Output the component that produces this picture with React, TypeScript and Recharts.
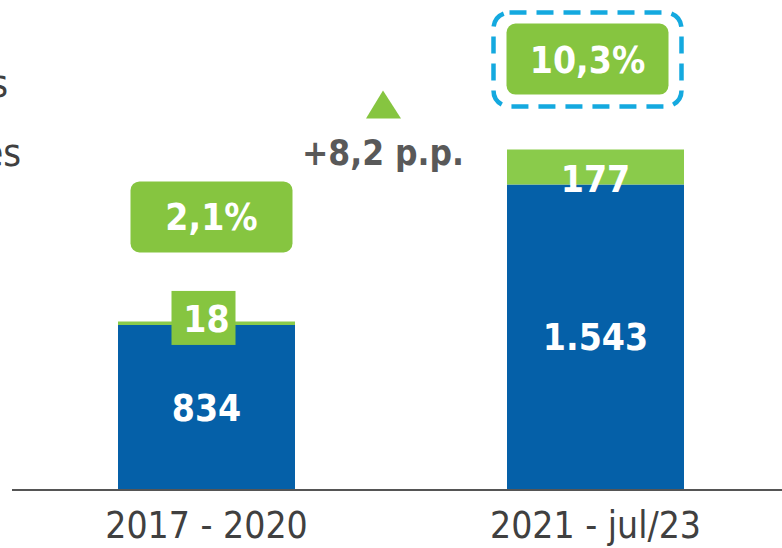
import React from 'react'
import { BarChart, Bar, XAxis, YAxis, LabelList } from 'recharts'

// values
const categories = ['2017 - 2020', '2021 - jul/23']
const baseValues = [834, 1543]
const newValues = [18, 177]
const shares = [2.1, 10.3]
const legendBits = ['s', 'es']

const BLUE = '#0560A8'
const GREEN = '#86C540'
const BAR_GREEN = '#8ACB4B'
const CYAN = '#14A9DF'
const GREY = '#404040'
const COND = '"DejaVu Sans Condensed", "DejaVu Sans", sans-serif'

// layout tweaks for the share boxes (px above the bar top)
const shareGap = [69, 55]

const data = categories.map((name, i) => ({
  name,
  base: baseValues[i],
  extra: newValues[i],
  share: shares[i],
}))

const fmtInt = (v: number) => String(v).replace(/\B(?=(\d{3})+(?!\d))/g, '.')
const fmtPct = (v: number) => v.toFixed(1).replace('.', ',')

const boldText = {
  fontFamily: COND,
  fontWeight: 700,
  fontSize: 37,
}

// eslint-disable-next-line @typescript-eslint/no-explicit-any
const TopLabel = (props: any) => {
  const { x, y, width, height, index } = props
  const cx = x + width / 2
  const baseTop = y + height
  const textY = baseTop - 5
  const thin = height < 20
  const last = index === data.length - 1

  const boxW = 162
  const boxH = 71
  const boxBottom = y - shareGap[index]
  const boxTop = boxBottom - boxH

  const delta = shares[shares.length - 1] - shares[0]
  const dx = x - 124

  return (
    <g>
      {thin && <rect x={cx - 35} y={textY - 29} width={64} height={54} fill={GREEN} />}
      <text x={cx} y={textY} textAnchor="middle" dominantBaseline="central" fill="#fff" style={boldText}>
        {fmtInt(newValues[index])}
      </text>

      <rect x={cx - boxW / 2 + (last ? -8 : 5)} y={boxTop} width={boxW} height={boxH} rx={9} fill={GREEN} />
      <text
        x={cx + (last ? -8 : 5)}
        y={boxTop + boxH / 2 + 1}
        textAnchor="middle"
        dominantBaseline="central"
        fill="#fff"
        style={boldText}
      >
        {fmtPct(shares[index])}%
      </text>

      {last && (
        <>
          <rect
            x={cx - 8 - 94}
            y={boxTop - 11}
            width={188}
            height={boxH + 23}
            rx={16}
            fill="none"
            stroke={CYAN}
            strokeWidth={4.5}
            strokeDasharray="17 10"
          />
          <polygon points={`${dx},${y - 59} ${dx - 17},${y - 31} ${dx + 18},${y - 31}`} fill={GREEN} />
          <text x={dx} y={y + 15} textAnchor="middle" fill="#595959" style={{ ...boldText, fontSize: 35 }}>
            +{fmtPct(delta)} p.p.
          </text>
        </>
      )}
    </g>
  )
}

// eslint-disable-next-line @typescript-eslint/no-explicit-any
const Tick = ({ x, y, payload }: any) => (
  <text x={x} y={y + 40} textAnchor="middle" fill={GREY} style={{ fontFamily: COND, fontSize: 37 }}>
    {payload.value}
  </text>
)

export default function App() {
  return (
    <div style={{ position: 'fixed', left: 0, top: 0, width: 782, height: 548, overflow: 'hidden', background: '#fff' }}>
      {/* legend words cut off at the left edge, as in the source slide */}
      {legendBits.map((t, i) => (
        <div
          key={t}
          style={{
            position: 'absolute',
            right: 782 - (i === 0 ? 8 : 21),
            top: i === 0 ? 62 : 131,
            fontFamily: COND,
            fontSize: 38,
            color: GREY,
            whiteSpace: 'nowrap',
          }}
        >
          {t}
        </div>
      ))}
      <BarChart width={790} height={548} data={data} margin={{ top: 15, right: 0, left: 12, bottom: 0 }}>
        <YAxis hide domain={[0, 2400]} />
        <XAxis
          dataKey="name"
          height={58}
          tickLine={false}
          axisLine={{ stroke: '#555', strokeWidth: 2 }}
          tick={<Tick />}
          interval={0}
        />
        <Bar dataKey="base" stackId="a" fill={BLUE} barSize={177} isAnimationActive={false}>
          <LabelList
            dataKey="base"
            position="center"
            formatter={(v: number) => fmtInt(v)}
            fill="#fff"
            style={boldText}
          />
        </Bar>
        <Bar dataKey="extra" stackId="a" fill={BAR_GREEN} barSize={177} isAnimationActive={false}>
          <LabelList dataKey="extra" content={<TopLabel />} />
        </Bar>
      </BarChart>
    </div>
  )
}
